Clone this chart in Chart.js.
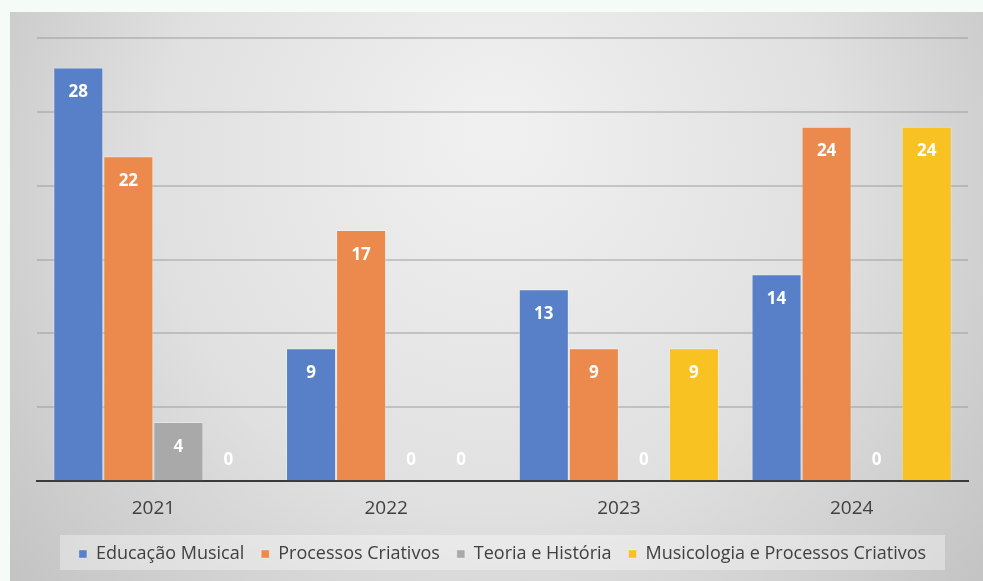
<!DOCTYPE html>
<html>
<head>
<meta charset="utf-8">
<script src="https://cdn.jsdelivr.net/npm/chart.js@4.4.1/dist/chart.umd.min.js"></script>
<style>
  html, body { margin: 0; padding: 0; background: #f5fcf8; }
  #wrap { position: absolute; left: 10px; top: 12px; width: 973px; height: 569px; }
</style>
</head>
<body>
<div id="wrap"><canvas id="chart"></canvas></div>
<script>
// data
const years = ['2021', '2022', '2023', '2024'];
const educacaoMusical = [28, 9, 13, 14];
const processosCriativos = [22, 17, 9, 24];
const teoriaHistoria = [4, 0, 0, 0];
const musicologiaProcessos = [0, 0, 9, 24];

// background gradient + legend box
const bgPlugin = {
    id: 'bg',
    beforeDraw(chart) {
        const ctx = chart.ctx;
        const w = chart.width, h = chart.height;
        ctx.save();
        const g = ctx.createRadialGradient(w * 0.5, h * 0.2, 20, w * 0.5, h * 0.35, w * 0.62);
        g.addColorStop(0, '#f0f0f0');
        g.addColorStop(0.55, '#e0e0e0');
        g.addColorStop(1, '#c4c4c4');
        ctx.fillStyle = g;
        ctx.fillRect(0, 0, w, h);
        ctx.fillStyle = 'rgba(255,255,255,0.35)';
        ctx.fillRect(50, 523, 885, 35);
        ctx.restore();
    }
};

// value labels
const labelPlugin = {
    id: 'vals',
    afterDatasetsDraw(chart) {
        const ctx = chart.ctx;
        ctx.save();
        ctx.font = 'bold 17px "Open Sans", sans-serif';
        ctx.fillStyle = '#ffffff';
        ctx.textAlign = 'center';
        ctx.textBaseline = 'middle';
        chart.data.datasets.forEach((ds, i) => {
            chart.getDatasetMeta(i).data.forEach((el, j) => {
                const v = ds.data[j];
                const y = v > 0 ? el.y + 25 : el.base - 21;
                ctx.fillText(String(v), el.x, y);
            });
        });
        ctx.restore();
    }
};

function initChart() {
    const ctx = document.getElementById('chart').getContext('2d');
    const mk = (label, data, color) => ({
        label: label,
        data: data,
        backgroundColor: color,
        borderColor: 'rgba(255,255,255,0.3)',
        borderWidth: 1,
        categoryPercentage: 0.86,
        barPercentage: 1
    });
    new Chart(ctx, {
        type: 'bar',
        data: {
            labels: years,
            datasets: [
                mk('Educação Musical', educacaoMusical, '#5780c9'),
                mk('Processos Criativos', processosCriativos, '#eb8a4c'),
                mk('Teoria e História', teoriaHistoria, '#a9a9a9'),
                mk('Musicologia e Processos Criativos', musicologiaProcessos, '#f8c322')
            ]
        },
        options: {
            responsive: true,
            maintainAspectRatio: false,
            animation: false,
            layout: { padding: { left: 27, right: 15, top: 26, bottom: 8 } },
            plugins: {
                legend: {
                    position: 'bottom',
                    labels: {
                        boxWidth: 8,
                        boxHeight: 8,
                        padding: 17,
                        color: '#404040',
                        font: { family: '"Open Sans", sans-serif', size: 18 }
                    }
                },
                tooltip: { enabled: false }
            },
            scales: {
                x: {
                    grid: { display: false },
                    border: { color: '#3a3a3a', width: 2 },
                    ticks: {
                        color: '#404040',
                        padding: 8,
                        font: { family: '"Open Sans", sans-serif', size: 19 }
                    }
                },
                y: {
                    min: 0,
                    max: 30,
                    ticks: { display: false, stepSize: 5 },
                    border: { display: false },
                    grid: { color: 'rgba(150,150,150,0.45)', lineWidth: 2, drawTicks: false }
                }
            }
        },
        plugins: [bgPlugin, labelPlugin]
    });
}

initChart();
</script>
</body>
</html>
